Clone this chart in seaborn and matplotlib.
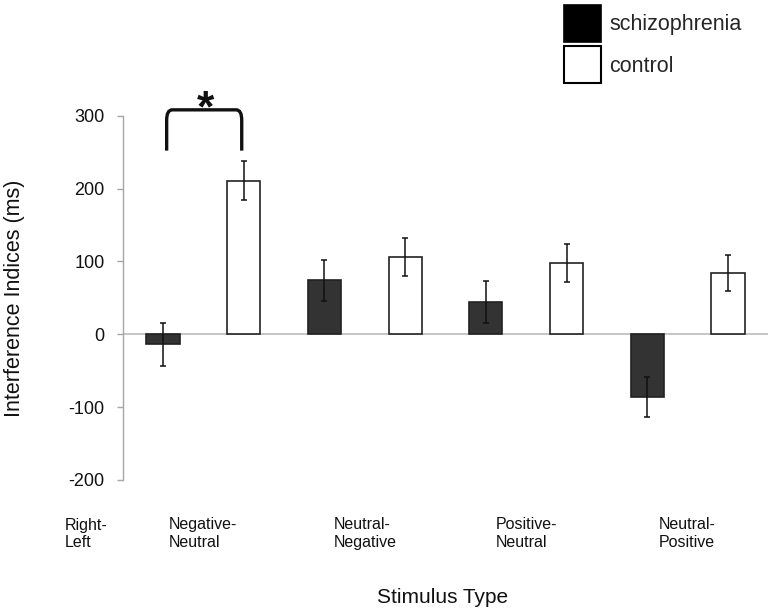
import numpy as np
import pandas as pd
import matplotlib
matplotlib.use("Agg")
import matplotlib.pyplot as plt
from matplotlib.path import Path
from matplotlib.patches import PathPatch, Patch
import seaborn as sns

# ---- data ----
stimulus = ["Negative-\nNeutral", "Neutral-\nNegative", "Positive-\nNeutral", "Neutral-\nPositive"]
groups = ["schizophrenia", "control"]
schizophrenia_mean = [-14, 74, 44, -86]
control_mean = [211, 106, 98, 84]
schizophrenia_err = [29, 28, 29, 27]
control_err = [27, 26, 26, 25]
extra_label = "Right-\nLeft"
yticks = [-200, -100, 0, 100, 200, 300]

# ---- build long table (one slot per bar) ----
rows = []
for i, s in enumerate(stimulus):
    rows.append({"slot": f"{i}-s", "stimulus": s, "group": "schizophrenia",
                 "value": schizophrenia_mean[i], "err": schizophrenia_err[i]})
    rows.append({"slot": f"{i}-c", "stimulus": s, "group": "control",
                 "value": control_mean[i], "err": control_err[i]})
df = pd.DataFrame(rows)
order = list(df["slot"])

sns.set_theme(style="white")
plt.rcParams["font.family"] = ["Liberation Sans", "DejaVu Sans"]

fig = plt.figure(figsize=(7.75, 6.13), dpi=100)
ax = fig.add_axes([0.1583, 0.2170, 0.8331, 0.5943])

palette = {"schizophrenia": "#333333", "control": "#ffffff"}
sns.barplot(data=df, x="slot", y="value", hue="group", order=order,
            hue_order=groups, palette=palette, dodge=False, width=0.41,
            edgecolor="#222222", linewidth=1.2, errorbar=None, legend=False, ax=ax)

xpos = np.arange(len(order))
ax.errorbar(xpos, df["value"], yerr=df["err"], fmt="none", ecolor="#111111",
            elinewidth=1.1, capsize=2.5, capthick=1.1, zorder=5)

ax.axhline(0, color="#c0c0c0", lw=1.3, zorder=0.5)

ax.set_xlim(-0.5, len(order) - 0.5)
ax.set_ylim(-200, 300)
ax.set_yticks(yticks)
ax.set_yticklabels([str(t) for t in yticks])

centers = [2 * i + 0.5 for i in range(len(stimulus))]
ax.set_xticks(centers)
ax.set_xticklabels(stimulus, fontsize=11.5, multialignment="left", color="#111111")
ax.tick_params(axis="x", length=0, pad=27)
ax.tick_params(axis="y", direction="out", length=4, width=1, color="#a6a6a6",
               labelsize=13, labelcolor="#111111", pad=9, left=True)

for sp in ["top", "right", "bottom"]:
    ax.spines[sp].set_visible(False)
ax.spines["left"].set_color("#a6a6a6")
ax.spines["left"].set_linewidth(1.0)

ax.text(-1.215, -0.104, extra_label, transform=ax.get_xaxis_transform(),
        ha="left", va="top", fontsize=11.5, color="#111111", clip_on=False)

ax.set_xlabel("Stimulus Type", fontsize=15, color="#111111")
ax.xaxis.set_label_coords(0.496, -0.2965)
ax.set_ylabel("Interference Indices (ms)", fontsize=15.5, color="#111111")
ax.yaxis.set_label_coords(-0.151, 0.5)

# significance bracket
x0, x1, yb, yt, rx, ry = 0.045, 0.975, 252, 308, 0.07, 14
verts = [(x0, yb), (x0, yt - ry), (x0, yt), (x0 + rx, yt), (x1 - rx, yt),
         (x1, yt), (x1, yt - ry), (x1, yb)]
codes = [Path.MOVETO, Path.LINETO, Path.CURVE3, Path.CURVE3, Path.LINETO,
         Path.CURVE3, Path.CURVE3, Path.LINETO]
ax.add_patch(PathPatch(Path(verts, codes), fill=False, lw=2.4,
                       edgecolor="#111111", clip_on=False, capstyle="butt"))
ax.text(0.52, 308, "*", ha="center", va="center", fontsize=32,
        fontweight="bold", color="#111111", clip_on=False)

handles = [Patch(facecolor="#000000", edgecolor="#000000", lw=1.2),
           Patch(facecolor="#ffffff", edgecolor="#000000", lw=1.5)]
fig.legend(handles, groups, loc="upper left", bbox_to_anchor=(564 / 775, 1 - 5 / 613),
           frameon=False, fontsize=15.5, handlelength=1.72, handleheight=2.27,
           handletextpad=0.38, labelspacing=0.2, borderpad=0, borderaxespad=0)

fig.savefig("out.png", dpi=100)
